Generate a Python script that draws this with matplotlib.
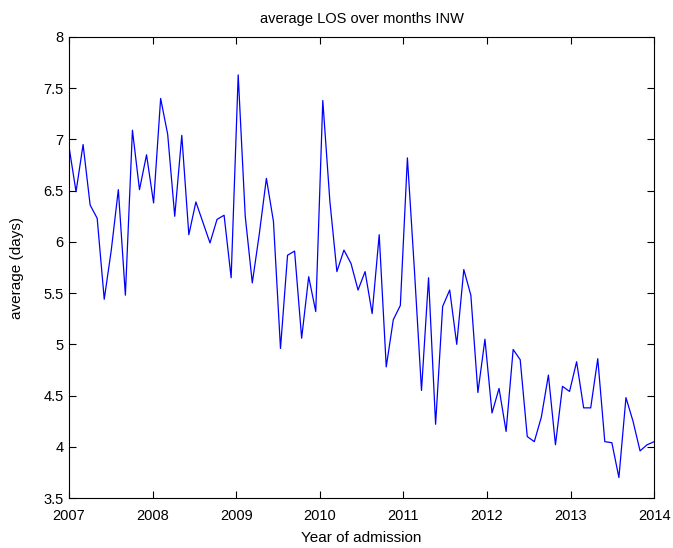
import numpy as np
import matplotlib
matplotlib.use("Agg")
import matplotlib.pyplot as plt

# monthly average length of stay
los = [6.93, 6.49, 6.95, 6.36, 6.23, 5.44, 5.92, 6.51, 5.48, 7.09,
       6.51, 6.85, 6.38, 7.40, 7.05, 6.25, 7.04, 6.07, 6.39, 6.19,
       5.99, 6.22, 6.26, 5.65, 7.63, 6.25, 5.60, 6.08, 6.62, 6.20,
       4.96, 5.87, 5.91, 5.06, 5.66, 5.32, 7.38, 6.40, 5.71, 5.92,
       5.79, 5.53, 5.71, 5.30, 6.07, 4.78, 5.24, 5.38, 6.82, 5.72,
       4.55, 5.65, 4.22, 5.37, 5.53, 5.00, 5.73, 5.48, 4.53, 5.05,
       4.33, 4.57, 4.15, 4.95, 4.85, 4.10, 4.05, 4.29, 4.70, 4.02,
       4.59, 4.54, 4.83, 4.38, 4.38, 4.86, 4.05, 4.04, 3.70, 4.48,
       4.25, 3.96, 4.02, 4.05]
years = np.linspace(2007, 2014, len(los))

xticks = [2007, 2008, 2009, 2010, 2011, 2012, 2013, 2014]
yticks = [3.5, 4, 4.5, 5, 5.5, 6, 6.5, 7, 7.5, 8]

plt.rcParams['font.family'] = ['Liberation Sans', 'DejaVu Sans']

fig = plt.figure(figsize=(6.73, 5.48), dpi=100)
ax = fig.add_axes([0.1025, 0.0912, 0.8695, 0.8413])
ax.plot(years, los, color=(0, 0, 1), linewidth=0.9)

ax.set_xlim(2007, 2014)
ax.set_ylim(3.5, 8)
ax.set_xticks(xticks)
ax.set_xticklabels([str(t) for t in xticks])
ax.set_yticks(yticks)
ax.set_yticklabels(['%g' % t for t in yticks])
ax.tick_params(direction='in', top=True, right=True, labelsize=10.5, length=5)
ax.tick_params(axis='x', pad=8)
ax.tick_params(axis='y', pad=4)

ax.set_title('average LOS over months INW', fontsize=10.5, pad=10)
ax.set_xlabel('Year of admission', fontsize=11, labelpad=6)
ax.set_ylabel('average (days)', fontsize=11, labelpad=14)

fig.savefig('out.png', dpi=100)
